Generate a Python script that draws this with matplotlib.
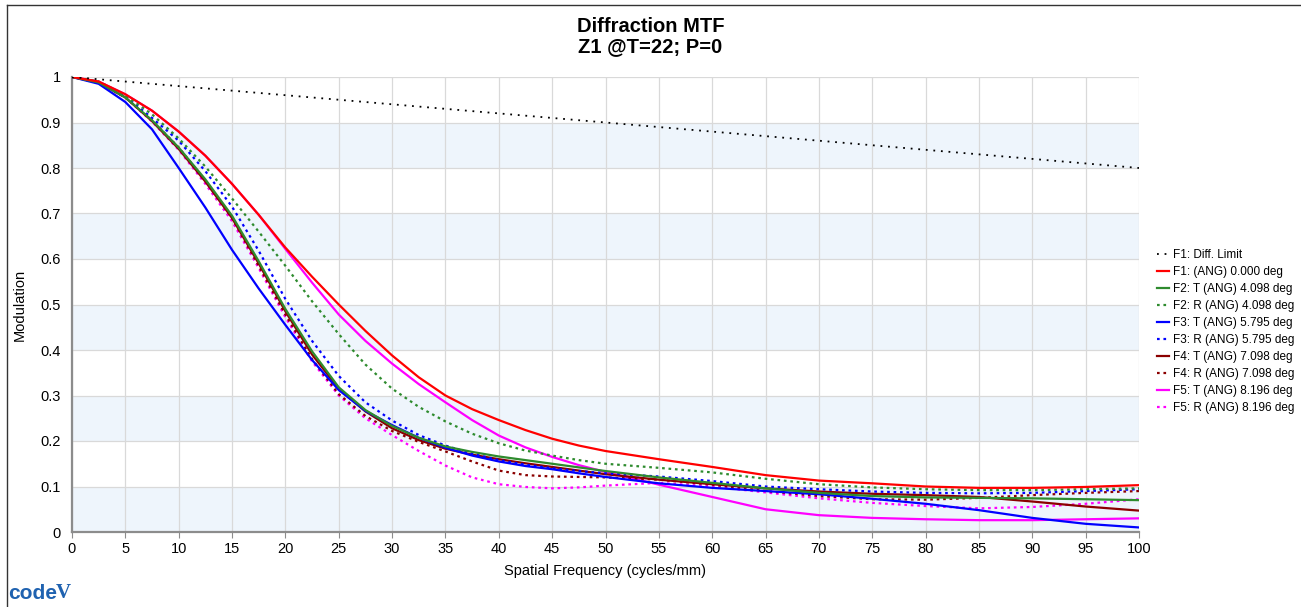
import numpy as np
import matplotlib
matplotlib.use("Agg")
import matplotlib.pyplot as plt
from matplotlib.lines import Line2D

plt.rcParams['font.family'] = ['Liberation Sans', 'DejaVu Sans']

# spatial frequency samples (cycles/mm)
freq = [0, 2.5, 5, 7.5, 10, 12.5, 15, 17.5, 20, 22.5, 25, 27.5, 30, 32.5, 35, 37.5,
        40, 42.5, 45, 47.5, 50, 55, 60, 65, 70, 75, 80, 85, 90, 95, 100]

# modulation values
diff_limit = [1.0, 0.995, 0.99, 0.985, 0.98, 0.975, 0.97, 0.965, 0.96, 0.955, 0.95,
              0.945, 0.94, 0.935, 0.93, 0.925, 0.92, 0.915, 0.91, 0.905, 0.90,
              0.89, 0.88, 0.87, 0.86, 0.85, 0.84, 0.83, 0.82, 0.81, 0.80]
f1_ang = [1.0, 0.99, 0.962, 0.926, 0.88, 0.827, 0.765, 0.697, 0.625, 0.561, 0.50,
          0.442, 0.388, 0.34, 0.30, 0.27, 0.246, 0.224, 0.205, 0.19, 0.178,
          0.16, 0.143, 0.125, 0.113, 0.107, 0.10, 0.097, 0.097, 0.099, 0.103]
f2_t = [1.0, 0.988, 0.955, 0.905, 0.845, 0.775, 0.695, 0.595, 0.49, 0.397, 0.318,
        0.268, 0.233, 0.207, 0.188, 0.176, 0.166, 0.158, 0.15, 0.142, 0.134,
        0.12, 0.108, 0.096, 0.086, 0.079, 0.076, 0.075, 0.074, 0.072, 0.070]
f2_r = [1.0, 0.99, 0.96, 0.918, 0.865, 0.803, 0.733, 0.66, 0.585, 0.507, 0.435,
        0.368, 0.315, 0.275, 0.243, 0.216, 0.195, 0.179, 0.168, 0.158, 0.15,
        0.141, 0.131, 0.117, 0.105, 0.098, 0.094, 0.092, 0.092, 0.094, 0.096]
f3_t = [1.0, 0.985, 0.945, 0.885, 0.80, 0.713, 0.62, 0.535, 0.455, 0.378, 0.312,
        0.266, 0.235, 0.207, 0.185, 0.168, 0.155, 0.145, 0.138, 0.129, 0.121,
        0.107, 0.097, 0.09, 0.083, 0.073, 0.062, 0.048, 0.031, 0.018, 0.010]
f3_r = [1.0, 0.988, 0.957, 0.91, 0.86, 0.793, 0.715, 0.618, 0.512, 0.42, 0.343,
        0.285, 0.245, 0.213, 0.19, 0.172, 0.158, 0.148, 0.14, 0.134, 0.129,
        0.122, 0.112, 0.10, 0.094, 0.089, 0.086, 0.085, 0.086, 0.09, 0.094]
f4_t = [1.0, 0.988, 0.955, 0.903, 0.842, 0.77, 0.69, 0.59, 0.485, 0.39, 0.315,
        0.265, 0.228, 0.202, 0.183, 0.17, 0.16, 0.151, 0.143, 0.135, 0.127,
        0.115, 0.105, 0.096, 0.089, 0.084, 0.081, 0.077, 0.067, 0.056, 0.047]
f4_r = [1.0, 0.988, 0.955, 0.905, 0.845, 0.772, 0.69, 0.585, 0.478, 0.38, 0.303,
        0.255, 0.222, 0.198, 0.177, 0.155, 0.135, 0.125, 0.122, 0.121, 0.12,
        0.115, 0.104, 0.09, 0.079, 0.072, 0.071, 0.075, 0.081, 0.086, 0.090]
f5_t = [1.0, 0.99, 0.962, 0.926, 0.88, 0.827, 0.765, 0.697, 0.622, 0.548, 0.478,
        0.42, 0.37, 0.325, 0.285, 0.246, 0.212, 0.186, 0.165, 0.147, 0.132,
        0.104, 0.077, 0.05, 0.037, 0.031, 0.028, 0.026, 0.026, 0.028, 0.030]
f5_r = [1.0, 0.988, 0.955, 0.902, 0.84, 0.765, 0.683, 0.58, 0.472, 0.375, 0.30,
        0.25, 0.213, 0.178, 0.146, 0.12, 0.105, 0.099, 0.096, 0.098, 0.102,
        0.108, 0.10, 0.087, 0.074, 0.064, 0.057, 0.052, 0.055, 0.062, 0.072]

labels = ['F1: Diff. Limit', 'F1: (ANG) 0.000 deg',
          'F2: T (ANG) 4.098 deg', 'F2: R (ANG) 4.098 deg',
          'F3: T (ANG) 5.795 deg', 'F3: R (ANG) 5.795 deg',
          'F4: T (ANG) 7.098 deg', 'F4: R (ANG) 7.098 deg',
          'F5: T (ANG) 8.196 deg', 'F5: R (ANG) 8.196 deg']
series = [diff_limit, f1_ang, f2_t, f2_r, f3_t, f3_r, f4_t, f4_r, f5_t, f5_r]
colors = ['black', '#ff0000', '#2e8b2e', '#2e8b2e', '#0000ff', '#0000ff',
          '#8b0000', '#8b0000', '#ff00ff', '#ff00ff']
dotted = [True, False, False, True, False, True, False, True, False, True]

fig = plt.figure(figsize=(13.01, 6.07), dpi=100)
W, H = 1301, 607
ax = fig.add_axes([72 / W, (H - 532) / H, (1139 - 72) / W, (532 - 77) / H])

# alternating light blue bands
for lo in np.arange(0, 1, 0.2):
    ax.axhspan(lo, lo + 0.1, color='#eef5fc', zorder=0, lw=0)

handles = []
for i, (vals, col, dot, lab) in enumerate(zip(series, colors, dotted, labels)):
    if i == 0:
        ln, = ax.plot(freq, vals, color=col, lw=1.3, dashes=(1, 3.2), label=lab, zorder=20)
    elif dot:
        ln, = ax.plot(freq, vals, color=col, lw=1.6, dashes=(1.2, 1.7), label=lab, zorder=20 - i)
    else:
        ln, = ax.plot(freq, vals, color=col, lw=1.6, label=lab, zorder=20 - i)
    handles.append(ln)

ax.set_xlim(0, 100)
ax.set_ylim(0, 1)
ax.set_xticks(np.arange(0, 101, 5))
ax.set_yticks(np.arange(0, 1.01, 0.1))
ax.set_yticklabels(['0', '0.1', '0.2', '0.3', '0.4', '0.5', '0.6', '0.7', '0.8', '0.9', '1'])
ax.grid(True, color='#d9d9d9', lw=0.9, zorder=1)
ax.set_axisbelow(True)
for s in ['top', 'right']:
    ax.spines[s].set_visible(False)
for s in ['left', 'bottom']:
    ax.spines[s].set_color('#8c8c8c')
    ax.spines[s].set_linewidth(1.6)
ax.tick_params(axis='x', length=4, color='#8c8c8c', labelsize=10.5, pad=3)
ax.tick_params(axis='y', length=0, labelsize=10.5, pad=8)

ax.set_xlabel('Spatial Frequency (cycles/mm)', fontsize=10.5, labelpad=6)
ax.set_ylabel('Modulation', fontsize=10.5, labelpad=10)

fig.text(0.5, 1 - 27 / H, 'Diffraction MTF', ha='center', va='center',
         fontsize=14.5, fontweight='bold')
fig.text(0.5, 1 - 47 / H, 'Z1 @T=22; P=0', ha='center', va='center',
         fontsize=14.5, fontweight='bold')

fig.legend(handles=handles, loc='upper left', bbox_to_anchor=(1152 / W, 1 - 244 / H),
           frameon=False, fontsize=8.5, handlelength=1.0, handletextpad=0.35,
           labelspacing=0.43, borderaxespad=0)

# logo and window frame
fig.text(8 / W, 4 / H, 'code', color='#1f62b0', fontsize=15, fontweight='bold',
         ha='left', va='bottom')
fig.text(56 / W, 4 / H, 'V', color='#1f62b0', fontsize=15, fontweight='bold',
         family='Liberation Serif', ha='left', va='bottom')
fig.add_artist(Line2D([7 / W, 7 / W], [0, 1 - 5 / H], color='#333333', lw=1))
fig.add_artist(Line2D([7 / W, 1], [1 - 5 / H, 1 - 5 / H], color='#333333', lw=1))

fig.savefig('out.png', dpi=100)
